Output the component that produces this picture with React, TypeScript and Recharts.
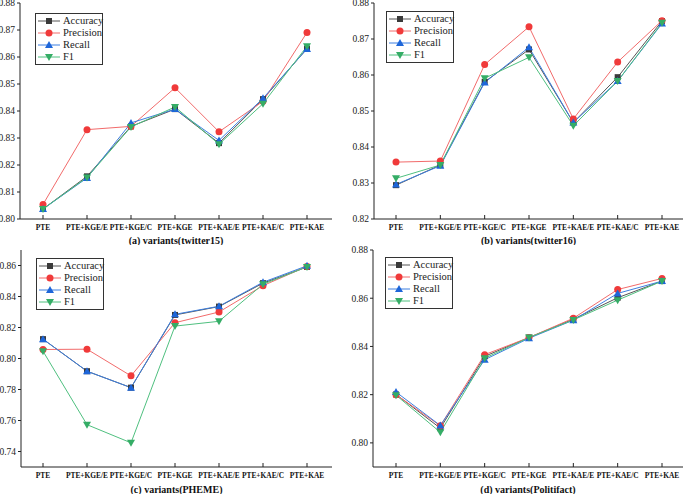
import React from 'react';
import { LineChart, Line, XAxis, YAxis, Legend } from 'recharts';

const CATS = ['PTE', 'PTE+KGE/E', 'PTE+KGE/C', 'PTE+KGE', 'PTE+KAE/E', 'PTE+KAE/C', 'PTE+KAE'];

// (a) twitter15
const TW15_ACC = [0.8037, 0.8158, 0.8343, 0.8407, 0.8281, 0.8444, 0.8631];
const TW15_PREC = [0.8054, 0.8331, 0.8343, 0.8486, 0.8323, 0.8436, 0.8691];
const TW15_REC = [0.8037, 0.8152, 0.8356, 0.8407, 0.8291, 0.8447, 0.8630];
const TW15_F1 = [0.8037, 0.8154, 0.8341, 0.8415, 0.8277, 0.8427, 0.8640];

// (b) twitter16
const TW16_ACC = [0.8294, 0.8350, 0.8581, 0.8671, 0.8468, 0.8594, 0.8750];
const TW16_PREC = [0.8358, 0.8361, 0.8629, 0.8734, 0.8478, 0.8636, 0.8751];
const TW16_REC = [0.8296, 0.8348, 0.8579, 0.8677, 0.8468, 0.8583, 0.8743];
const TW16_F1 = [0.8313, 0.8350, 0.8591, 0.8649, 0.8459, 0.8583, 0.8745];

// (c) PHEME
const PHEME_ACC = [0.8125, 0.7918, 0.7812, 0.8281, 0.8335, 0.8486, 0.8591];
const PHEME_PREC = [0.8058, 0.8060, 0.7888, 0.8231, 0.8300, 0.8470, 0.8594];
const PHEME_REC = [0.8125, 0.7918, 0.7812, 0.8285, 0.8337, 0.8492, 0.8598];
const PHEME_F1 = [0.8047, 0.7573, 0.7456, 0.8209, 0.8240, 0.8479, 0.8591];

// (d) Politifact
const POLI_ACC = [0.8201, 0.8061, 0.8359, 0.8437, 0.8513, 0.8602, 0.8671];
const POLI_PREC = [0.8200, 0.8071, 0.8366, 0.8437, 0.8517, 0.8636, 0.8682];
const POLI_REC = [0.8211, 0.8072, 0.8345, 0.8434, 0.8509, 0.8620, 0.8671];
const POLI_F1 = [0.8198, 0.8044, 0.8351, 0.8437, 0.8510, 0.8592, 0.8671];

const TICKS_A = [0.80, 0.81, 0.82, 0.83, 0.84, 0.85, 0.86, 0.87, 0.88];
const TICKS_B = [0.82, 0.83, 0.84, 0.85, 0.86, 0.87, 0.88];
const TICKS_C = [0.74, 0.76, 0.78, 0.80, 0.82, 0.84, 0.86];
const TICKS_D = [0.80, 0.82, 0.84, 0.86, 0.88];

const SERIF = "'Liberation Serif', 'Times New Roman', serif";

const SERIES = [
  { key: 'acc', name: 'Accuracy', line: '#555555', fill: '#3a3a3a', shape: 'square' },
  { key: 'prec', name: 'Precision', line: '#f26b6b', fill: '#f03a3a', shape: 'circle' },
  { key: 'rec', name: 'Recall', line: '#3d7fe0', fill: '#1e66d9', shape: 'up' },
  { key: 'f1', name: 'F1', line: '#4fc07f', fill: '#35ad66', shape: 'down' },
];

function rows(acc: number[], prec: number[], rec: number[], f1: number[]) {
  return CATS.map((name, i) => ({ name, acc: acc[i], prec: prec[i], rec: rec[i], f1: f1[i] }));
}

function Marker({ cx, cy, shape, fill }: { cx: number; cy: number; shape: string; fill: string }) {
  if (shape === 'square') return <rect x={cx - 3} y={cy - 3} width={6} height={6} fill={fill} />;
  if (shape === 'circle') return <circle cx={cx} cy={cy} r={3.5} fill={fill} />;
  if (shape === 'up') return <polygon points={`${cx},${cy - 4} ${cx - 4},${cy + 3} ${cx + 4},${cy + 3}`} fill={fill} />;
  return <polygon points={`${cx - 4},${cy - 3} ${cx + 4},${cy - 3} ${cx},${cy + 4}`} fill={fill} />;
}

const TICK_MARGIN = 6;

function CatTick({ x, y, payload }: any) {
  const axisY = y - TICK_MARGIN;
  return (
    <g>
      <line x1={x} x2={x} y1={axisY} y2={axisY - 4} stroke="#222" />
      <text x={x} y={y} dy="0.71em" textAnchor="middle" fontSize={7.4} fontWeight="bold"
        fontFamily={SERIF} fill="#111">
        {payload.value}
      </text>
    </g>
  );
}

function LegendBox() {
  return (
    <div style={{ border: '1px solid #333', background: '#fff', padding: '1px 2px 1px 2px', width: 62,
      boxSizing: 'content-box', lineHeight: '12px' }}>
      {SERIES.map(s => (
        <div key={s.key} style={{ display: 'flex', alignItems: 'center', height: 12 }}>
          <svg width={24} height={10} style={{ flex: 'none' }}>
            <line x1={0} x2={22} y1={5} y2={5} stroke={s.line} strokeWidth={1} />
            <Marker cx={11} cy={5} shape={s.shape} fill={s.fill} />
          </svg>
          <span style={{ marginLeft: 1, fontFamily: SERIF, fontSize: 10.5, color: '#222', whiteSpace: 'nowrap' }}>
            {s.name}
          </span>
        </div>
      ))}
    </div>
  );
}

const PANELS = [
  { title: '(a) variants(twitter15)', data: rows(TW15_ACC, TW15_PREC, TW15_REC, TW15_F1),
    domain: [0.80, 0.88], ticks: TICKS_A, left: 0, top: 0, width: 340, height: 245,
    yWidth: 20, mTop: 3, mRight: 8, xHeight: 26, pad: { left: 23, right: 25 }, legend: { left: 35, top: 13 } },
  { title: '(b) variants(twitter16)', data: rows(TW16_ACC, TW16_PREC, TW16_REC, TW16_F1),
    domain: [0.82, 0.88], ticks: TICKS_B, left: 340, top: 0, width: 345, height: 245,
    yWidth: 34, mTop: 3, mRight: 2, xHeight: 26, pad: { left: 22, right: 21 }, legend: { left: 46, top: 11 } },
  { title: '(c) variants(PHEME)', data: rows(PHEME_ACC, PHEME_PREC, PHEME_REC, PHEME_F1),
    domain: [0.73, 0.87], ticks: TICKS_C, left: 0, top: 245, width: 340, height: 249,
    yWidth: 21, mTop: 5, mRight: 8, xHeight: 27, pad: { left: 22, right: 25 }, legend: { left: 36, top: 13 } },
  { title: '(d) variants(Politifact)', data: rows(POLI_ACC, POLI_PREC, POLI_REC, POLI_F1),
    domain: [0.79, 0.88], ticks: TICKS_D, left: 340, top: 245, width: 345, height: 249,
    yWidth: 33, mTop: 5, mRight: 2, xHeight: 27, pad: { left: 23, right: 21 }, legend: { left: 45, top: 12 } },
];

export default function App() {
  return (
    <div style={{ position: 'absolute', left: 0, top: 0, width: 685, height: 494, background: '#fff', overflow: 'hidden' }}>
      {PANELS.map(p => (
        <div key={p.title} style={{ position: 'absolute', left: p.left, top: p.top }}>
          <LineChart width={p.width} height={p.height} data={p.data}
            margin={{ top: p.mTop, right: p.mRight, bottom: 0, left: 0 }}>
            <XAxis dataKey="name" interval={0} padding={p.pad} height={p.xHeight}
              tickSize={0} tickMargin={TICK_MARGIN} tick={<CatTick />} tickLine={false}
              axisLine={{ stroke: '#222' }}
              label={{ value: p.title, position: 'insideBottom', offset: 1, fontSize: 10, fontWeight: 'bold',
                fontFamily: SERIF, fill: '#111' }} />
            <XAxis xAxisId="top" orientation="top" dataKey="name" height={0} padding={p.pad}
              tick={false} tickLine={false} axisLine={{ stroke: '#555' }} />
            <YAxis type="number" domain={p.domain} ticks={p.ticks} interval={0} width={p.yWidth}
              tickSize={3} tickMargin={2} tickLine={{ stroke: '#222' }} axisLine={{ stroke: '#222' }}
              tick={{ fontSize: 9.5, fontFamily: SERIF, fill: '#222' }}
              tickFormatter={(v: number) => v.toFixed(2)} allowDataOverflow />
            <YAxis yAxisId="r" orientation="right" type="number" domain={p.domain} width={0}
              tick={false} tickLine={false} axisLine={{ stroke: '#555' }} allowDataOverflow />
            <Legend layout="horizontal" verticalAlign="middle" align="center"
              wrapperStyle={{ left: p.legend.left, top: p.legend.top, width: 68, height: 52 }}
              content={() => <LegendBox />} />
            {SERIES.map(s => (
              <Line key={s.key} type="linear" dataKey={s.key} name={s.name} stroke={s.line} strokeWidth={1}
                isAnimationActive={false}
                dot={(d: any) => <Marker key={`${s.key}-${d.index}`} cx={d.cx} cy={d.cy} shape={s.shape} fill={s.fill} />}
                activeDot={false} />
            ))}
          </LineChart>
        </div>
      ))}
    </div>
  );
}
